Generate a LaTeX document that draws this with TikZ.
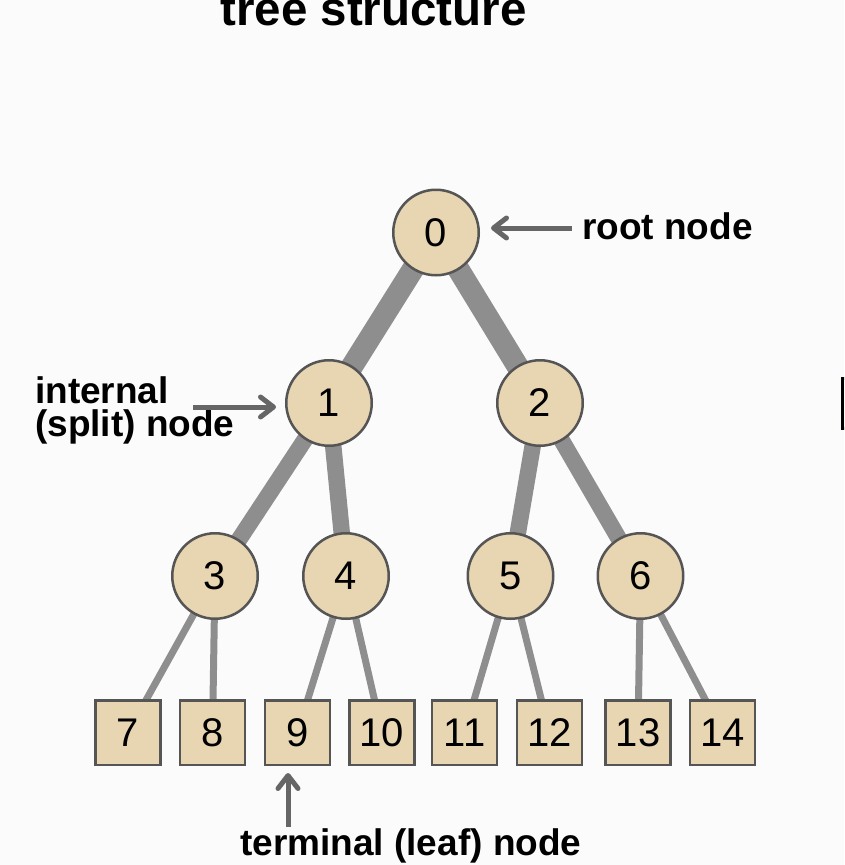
\documentclass[tikz,border=0pt]{standalone}
\usepackage{fontspec}
\setmainfont{Liberation Sans}
\usetikzlibrary{backgrounds,arrows.meta}
\definecolor{bg}{RGB}{251,251,251}
\definecolor{beige}{RGB}{232,213,178}
\definecolor{edgegray}{RGB}{142,142,142}
\definecolor{bordergray}{RGB}{85,85,85}
\definecolor{arrowgray}{RGB}{102,102,102}
\tikzset{
  circnode/.style={circle, fill=beige, draw=bordergray, line width=2.5pt, minimum size=85.5pt, inner sep=0pt, font=\fontsize{40}{42}\selectfont},
  leafnode/.style={rectangle, fill=beige, draw=bordergray, line width=2.5pt, minimum width=65pt, minimum height=64.5pt, inner sep=0pt, font=\fontsize{40}{42}\selectfont},
  bigedge/.style={draw=edgegray, line width=22pt},
  midedge/.style={draw=edgegray, line width=16.5pt},
  leafedge/.style={draw=edgegray, line width=7pt},
  labeltext/.style={inner sep=0pt, font=\fontsize{37}{33}\selectfont\bfseries},
  pointer/.style={draw=arrowgray, line width=5pt, -{Straight Barb[length=13pt,width=20pt,line cap=round,line join=round]}}
}
\begin{document}
\begin{tikzpicture}[x=1pt,y=-1pt]
\useasboundingbox (0,0) rectangle (844,865);
\clip (0,0) rectangle (844,865);
% internal nodes
\node[circnode] (n0) at (436,232.5) {0};
\node[circnode] (n1) at (329,403) {1};
\node[circnode] (n2) at (540,403) {2};
\node[circnode] (n3) at (215,576) {3};
\node[circnode] (n4) at (346,576) {4};
\node[circnode] (n5) at (510.5,576) {5};
\node[circnode] (n6) at (640.5,576) {6};
% leaves
\node[leafnode] (n7) at (128,732.5) {7};
\node[leafnode] (n8) at (212.5,732.5) {8};
\node[leafnode] (n9) at (297.5,732.5) {9};
\node[leafnode] (n10) at (382,732.5) {10};
\node[leafnode] (n11) at (464.5,732.5) {11};
\node[leafnode] (n12) at (549.5,732.5) {12};
\node[leafnode] (n13) at (638,732.5) {13};
\node[leafnode] (n14) at (722.5,732.5) {14};
\begin{scope}[on background layer]
  \fill[bg] (0,0) rectangle (844,865);
  \draw[bigedge] (n0.center) -- (n1.center);
  \draw[bigedge] (n0.center) -- (n2.center);
  \draw[midedge] (n1.center) -- (n3.center);
  \draw[midedge] (n1.center) -- (n4.center);
  \draw[midedge] (n2.center) -- (n5.center);
  \draw[midedge] (n2.center) -- (n6.center);
  \draw[leafedge] (n3.center) -- (n7.center);
  \draw[leafedge] (n3.center) -- (n8.center);
  \draw[leafedge] (n4.center) -- (n9.center);
  \draw[leafedge] (n4.center) -- (n10.center);
  \draw[leafedge] (n5.center) -- (n11.center);
  \draw[leafedge] (n5.center) -- (n12.center);
  \draw[leafedge] (n6.center) -- (n13.center);
  \draw[leafedge] (n6.center) -- (n14.center);
\end{scope}
% title
\node[inner sep=0pt, anchor=base, font=\fontsize{47.5}{50}\selectfont\bfseries] (title) at (373.5,25) {tree structure};
% labels
\node[labeltext, anchor=base west] (rootlab) at (582,239) {root node};
\node[labeltext, anchor=base west, align=left] (intlab) at (35,436) {internal\\(split) node};
\node[labeltext, anchor=base west] (leaflab) at (240,855) {terminal (leaf) node};
% pointers
\coordinate (rootstart) at (572,228);
\coordinate (rootend) at (491,228);
\draw[pointer] (rootstart) -- (rootend);
\coordinate (intstart) at (193,407);
\coordinate (intend) at (276,407);
\draw[pointer] (intstart) -- (intend);
\coordinate (leafstart) at (288,827);
\coordinate (leafend) at (288,773);
\draw[pointer] (leafstart) -- (leafend);
% partial box at right edge
\node[draw=black, line width=3pt, fill=beige!75!white, minimum width=60pt, minimum height=50pt, anchor=west, inner sep=0pt] (edgebox) at (840.5,403.5) {};
\end{tikzpicture}
\end{document}
